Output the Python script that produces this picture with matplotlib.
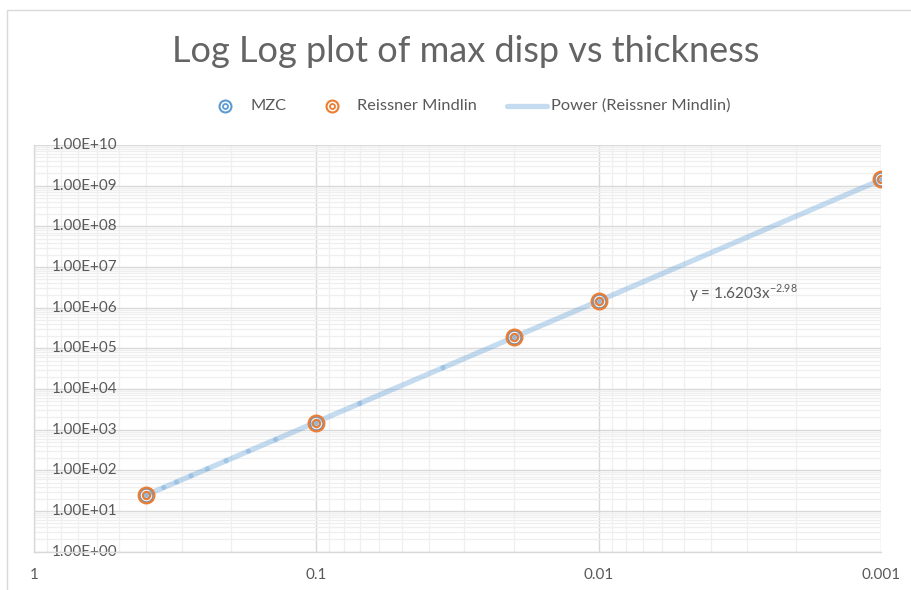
import numpy as np
import matplotlib
matplotlib.use("Agg")
import matplotlib.pyplot as plt
from matplotlib.lines import Line2D
from matplotlib.patches import Rectangle
from matplotlib.ticker import LogLocator, NullFormatter

plt.rcParams['font.family'] = ['Lato', 'DejaVu Sans']
plt.rcParams['mathtext.fontset'] = 'custom'
plt.rcParams['mathtext.rm'] = 'Lato'

# ---- data ----
thickness = [0.4, 0.1, 0.02, 0.01, 0.001]
mzc = [25, 1500, 1.85e5, 1.5e6, 1.5e9]
reissner = [25, 1500, 1.88e5, 1.5e6, 1.5e9]
trend_a = 1.6203
trend_b = -2.98
trend_label = r'y = 1.6203x$^{\mathregular{-2.98}}$'
x_ticks = [1, 0.1, 0.01, 0.001]
x_ticklabels = ['1', '0.1', '0.01', '0.001']
y_ticks = [10.0 ** k for k in range(0, 11)]
y_ticklabels = ['1.00E+%02d' % k for k in range(0, 11)]

TXT = '#595959'
BLUE = '#5B9BD5'
ORANGE = '#ED7D31'
MAJ = '#D9D9D9'
MIN = '#EFEFEF'

fig = plt.figure(figsize=(9.12, 5.9), dpi=100)
W, H = 912, 590
ax = fig.add_axes([34 / W, 1 - 551.7 / H, (881.5 - 34) / W, (551.7 - 145) / H])

ax.set_xscale('log')
ax.set_yscale('log')
ax.set_xlim(1, 0.001)
ax.set_ylim(1, 1e10)

# gridlines
ax.xaxis.set_major_locator(LogLocator(base=10, numticks=10))
ax.xaxis.set_minor_locator(LogLocator(base=10, subs=np.arange(2, 10), numticks=20))
ax.yaxis.set_major_locator(LogLocator(base=10, numticks=20))
ax.yaxis.set_minor_locator(LogLocator(base=10, subs=np.arange(2, 10), numticks=50))
ax.grid(which='minor', color=MIN, lw=0.9, zorder=0)
ax.grid(which='major', color=MAJ, lw=1.0, zorder=0.5)
ax.tick_params(which='both', length=0, labelbottom=False, labelleft=False)
ax.xaxis.set_minor_formatter(NullFormatter())
ax.yaxis.set_minor_formatter(NullFormatter())
for s in ['top', 'right']:
    ax.spines[s].set_visible(False)
for s in ['left', 'bottom']:
    ax.spines[s].set_color(MAJ)
    ax.spines[s].set_linewidth(1.0)
ax.set_axisbelow(True)

# tick labels as texts
for v, lab in zip(y_ticks, y_ticklabels):
    ax.text(0.0212, v, lab, transform=ax.get_yaxis_transform(), ha='left', va='center',
            fontsize=11, color=TXT, zorder=1)
for v, lab in zip(x_ticks, x_ticklabels):
    ax.text(v, -0.057, lab, transform=ax.get_xaxis_transform(), ha='center', va='center',
            fontsize=11, color=TXT)

# trendline, drawn as Excel-style segments (overlaps make darker joints)
tx = np.array(list(np.arange(thickness[-1], thickness[0], 0.03465)) + [thickness[0]])
ty = trend_a * tx ** trend_b
for i in range(len(tx) - 1):
    ax.plot(tx[i:i + 2], ty[i:i + 2], color=BLUE, alpha=0.35, lw=3.8,
            solid_capstyle='round', zorder=2)


def ring(x, y, color, big, small, z):
    ax.plot(x, y, ls='none', marker='o', ms=big, mfc='none', mec=color, mew=1.5, zorder=z)
    ax.plot(x, y, ls='none', marker='o', ms=small, mfc='none', mec=color, mew=1.3, zorder=z)


ring(thickness, mzc, '#7F8FA6', 9.8, 4.6, 3)
ring(thickness, reissner, ORANGE, 11.4, 5.4, 4)
ax.plot(thickness, mzc, ls='none', marker='o', ms=2.6, mfc='#9FB2C8', mec='none', zorder=5)

ax.text(0.773, 0.635, trend_label, transform=ax.transAxes, ha='left', va='center',
        fontsize=11, color=TXT)

# title
fig.text(466 / W, 1 - 51 / H, 'Log Log plot of max disp vs thickness', ha='center', va='center',
         fontsize=26, color='#646464')

# legend (manual)
ly = 1 - 106 / H


def legend_ring(xp, color):
    for ms, mew in ((8.6, 1.5), (3.6, 1.3)):
        fig.add_artist(Line2D([xp / W], [ly], transform=fig.transFigure, ls='none', marker='o',
                              ms=ms, mfc='none', mec=color, mew=mew))


legend_ring(225.5, BLUE)
fig.text(250 / W, ly, 'MZC', ha='left', va='center', fontsize=11.8, color=TXT)
legend_ring(332, ORANGE)
fig.text(357 / W, ly, 'Reissner Mindlin', ha='left', va='center', fontsize=11.8, color=TXT)
fig.add_artist(Line2D([507 / W, 547 / W], [ly, ly], transform=fig.transFigure, color=BLUE,
                      alpha=0.35, lw=3.8, solid_capstyle='round'))
fig.text(551 / W, ly, 'Power (Reissner Mindlin)', ha='left', va='center', fontsize=11.8, color=TXT)

# chart border
fig.add_artist(Rectangle((7 / W, -0.1), 1.2, 1 - 10 / H + 0.1, transform=fig.transFigure,
                         fill=False, ec='#D9D9D9', lw=1.0))

fig.savefig('out.png', dpi=100)
